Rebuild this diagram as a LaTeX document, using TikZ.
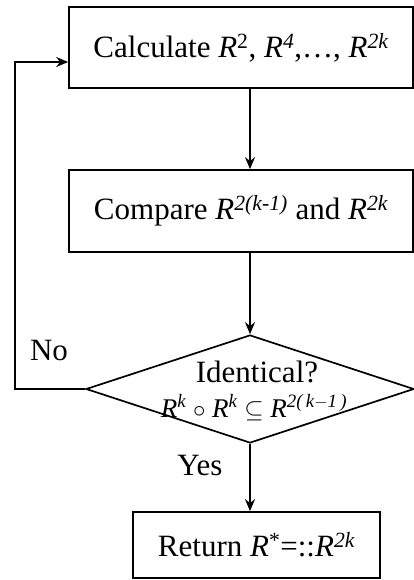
\documentclass[tikz,border=0pt]{standalone}
\usepackage{fontspec}
\setmainfont{Liberation Serif}
\usetikzlibrary{arrows.meta,shapes.geometric}
\newcommand{\myR}{\textit{R}}
\newcommand{\mysup}[1]{\textsuperscript{\itshape #1}}
\begin{document}
\begin{tikzpicture}[x=1pt,y=-1pt,line width=1.7pt,
  >={Stealth[length=12pt,width=10pt]},
  box/.style={draw,rectangle,inner sep=0pt,font=\fontsize{31}{36}\selectfont},
  dec/.style={draw,diamond,inner sep=0pt},
  lbl/.style={anchor=base,inner sep=0pt,font=\fontsize{31}{36}\selectfont}]
\useasboundingbox (0,0) rectangle (414,580);
\node[box,minimum width=344pt,minimum height=81pt] (b1) at (241,47.5)
  {Calculate \myR\textsuperscript{2}, \myR\mysup{4},…, \myR\mysup{2k}};
\node[box,minimum width=344pt,minimum height=82pt] (b2) at (241,211)
  {Compare \myR\mysup{2(k-1)} and \myR\mysup{2k}};
\node[dec,minimum width=328pt,minimum height=108pt] (d) at (250,389) {};
\node[box,minimum width=247pt,minimum height=66pt] (b4) at (256.5,545)
  {Return \myR\textsuperscript{*}=::\myR\mysup{2k}};
\node[lbl] (t1) at (257,382) {Identical?};
\node[lbl,font=\fontsize{27}{32}\selectfont] (t2) at (254,417)
  {\myR\mysup{k} $\circ$ \myR\mysup{k} $\subseteq$ \myR\mysup{2(\,k$-$1\,)}};
\node[lbl] (no) at (49,360) {No};
\node[lbl] (yes) at (200,475) {Yes};
\coordinate (fb) at (15,389);
\draw[->] (b1.south -| d.north) -- (b2.north -| d.north);
\draw[->] (b2.south -| d.north) -- (d.north);
\draw[->] (d.south) -- (b4.north -| d.south);
\draw[->] (d.west) -- (fb) |- ([yshift=-14.5pt]b1.west);
\end{tikzpicture}
\end{document}
